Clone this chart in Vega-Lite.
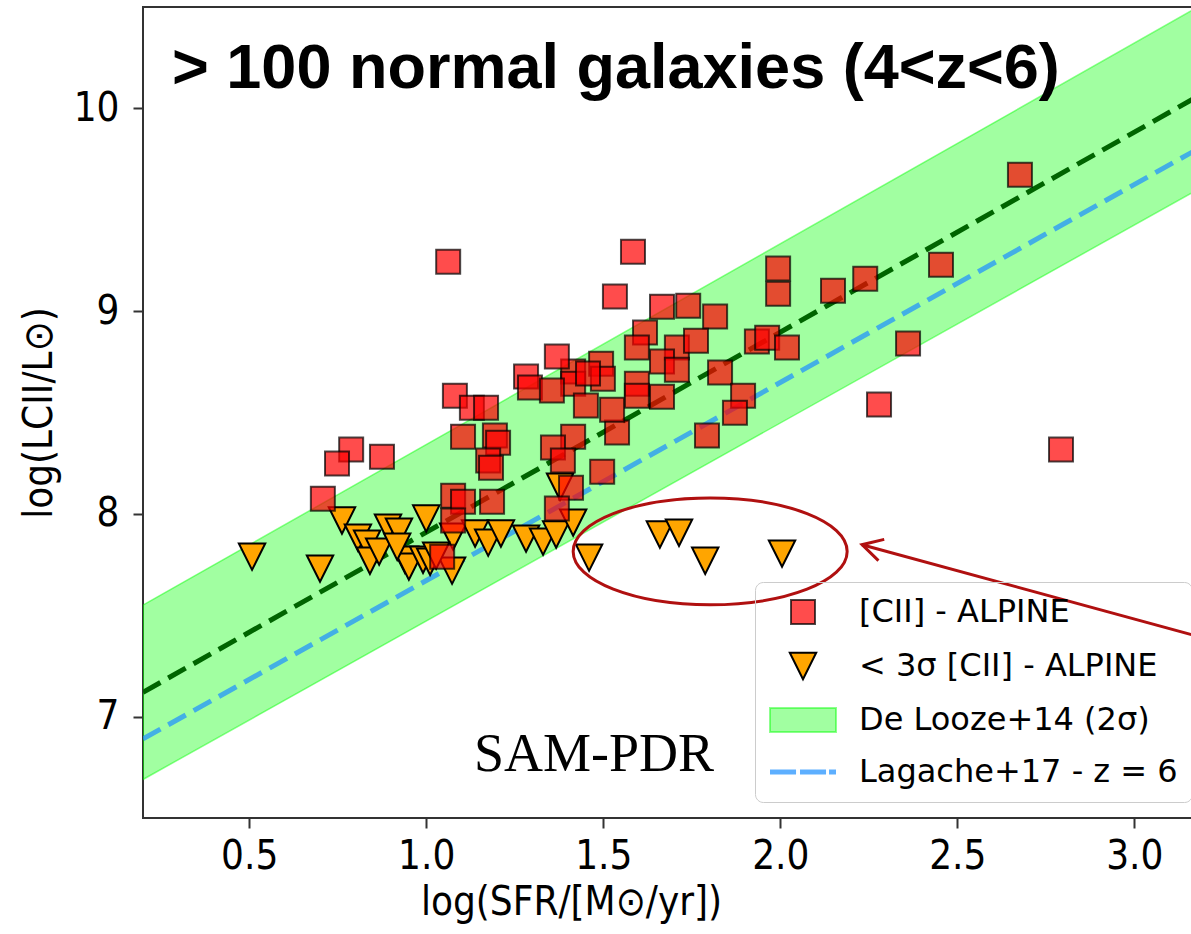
{
  "$schema": "https://vega.github.io/schema/vega-lite/v6.json",
  "width": 1049,
  "height": 811,
  "autosize": {"type": "none"},
  "padding": {"left": 143, "top": 7, "right": 0, "bottom": 116},
  "background": "white",
  "config": {
    "view": {"stroke": "#333333", "strokeWidth": 2},
    "axis": {
      "grid": false,
      "domain": false,
      "tickSize": 10,
      "tickWidth": 2,
      "tickColor": "#333333",
      "labelFont": "DejaVu Sans Condensed, DejaVu Sans",
      "labelFontSize": 40,
      "labelColor": "#000000",
      "titleFont": "DejaVu Sans Condensed, DejaVu Sans",
      "titleFontSize": 40,
      "titleFontWeight": "normal",
      "titleColor": "#000000"
    },
    "legend": {
      "orient": "none",
      "legendX": 612,
      "legendY": 575,
      "title": null,
      "padding": 14,
      "cornerRadius": 8,
      "strokeColor": "#cccccc",
      "symbolSize": 576,
      "symbolStrokeWidth": 2,
      "symbolOpacity": 1,
      "symbolOffset": 18,
      "labelOffset": 40,
      "labelFont": "DejaVu Sans",
      "labelFontSize": 32,
      "labelColor": "#000000",
      "labelLimit": 600,
      "rowPadding": 20
    }
  },
  "datasets": {
    "points": [
      {"x": 0.508, "y": 7.789, "s": "< 3σ [CII] - ALPINE"},
      {"x": 0.700, "y": 7.730, "s": "< 3σ [CII] - ALPINE"},
      {"x": 0.762, "y": 7.967, "s": "< 3σ [CII] - ALPINE"},
      {"x": 0.807, "y": 7.883, "s": "< 3σ [CII] - ALPINE"},
      {"x": 0.833, "y": 7.853, "s": "< 3σ [CII] - ALPINE"},
      {"x": 0.841, "y": 7.769, "s": "< 3σ [CII] - ALPINE"},
      {"x": 0.867, "y": 7.814, "s": "< 3σ [CII] - ALPINE"},
      {"x": 0.892, "y": 7.932, "s": "< 3σ [CII] - ALPINE"},
      {"x": 0.923, "y": 7.912, "s": "< 3σ [CII] - ALPINE"},
      {"x": 0.940, "y": 7.774, "s": "< 3σ [CII] - ALPINE"},
      {"x": 0.951, "y": 7.740, "s": "< 3σ [CII] - ALPINE"},
      {"x": 1.000, "y": 7.977, "s": "< 3σ [CII] - ALPINE"},
      {"x": 0.991, "y": 7.774, "s": "< 3σ [CII] - ALPINE"},
      {"x": 1.011, "y": 7.764, "s": "< 3σ [CII] - ALPINE"},
      {"x": 1.073, "y": 7.720, "s": "< 3σ [CII] - ALPINE"},
      {"x": 1.076, "y": 7.888, "s": "< 3σ [CII] - ALPINE"},
      {"x": 1.138, "y": 7.903, "s": "< 3σ [CII] - ALPINE"},
      {"x": 1.175, "y": 7.858, "s": "< 3σ [CII] - ALPINE"},
      {"x": 1.211, "y": 7.903, "s": "< 3σ [CII] - ALPINE"},
      {"x": 1.282, "y": 7.878, "s": "< 3σ [CII] - ALPINE"},
      {"x": 1.330, "y": 7.863, "s": "< 3σ [CII] - ALPINE"},
      {"x": 1.367, "y": 7.898, "s": "< 3σ [CII] - ALPINE"},
      {"x": 1.378, "y": 8.134, "s": "< 3σ [CII] - ALPINE"},
      {"x": 1.415, "y": 7.957, "s": "< 3σ [CII] - ALPINE"},
      {"x": 1.460, "y": 7.784, "s": "< 3σ [CII] - ALPINE"},
      {"x": 1.660, "y": 7.898, "s": "< 3σ [CII] - ALPINE"},
      {"x": 1.714, "y": 7.907, "s": "< 3σ [CII] - ALPINE"},
      {"x": 1.788, "y": 7.769, "s": "< 3σ [CII] - ALPINE"},
      {"x": 2.005, "y": 7.804, "s": "< 3σ [CII] - ALPINE"},
      {"x": 0.918, "y": 7.838, "s": "< 3σ [CII] - ALPINE"},
      {"x": 1.028, "y": 7.794, "s": "< 3σ [CII] - ALPINE"},
      {"x": 2.677, "y": 9.673, "s": "[CII] - ALPINE"},
      {"x": 2.793, "y": 8.317, "s": "[CII] - ALPINE"},
      {"x": 2.454, "y": 9.229, "s": "[CII] - ALPINE"},
      {"x": 2.240, "y": 9.160, "s": "[CII] - ALPINE"},
      {"x": 2.149, "y": 9.101, "s": "[CII] - ALPINE"},
      {"x": 1.994, "y": 9.210, "s": "[CII] - ALPINE"},
      {"x": 1.994, "y": 9.086, "s": "[CII] - ALPINE"},
      {"x": 1.934, "y": 8.850, "s": "[CII] - ALPINE"},
      {"x": 1.963, "y": 8.869, "s": "[CII] - ALPINE"},
      {"x": 2.019, "y": 8.820, "s": "[CII] - ALPINE"},
      {"x": 2.361, "y": 8.840, "s": "[CII] - ALPINE"},
      {"x": 2.279, "y": 8.539, "s": "[CII] - ALPINE"},
      {"x": 1.584, "y": 9.293, "s": "[CII] - ALPINE"},
      {"x": 1.533, "y": 9.072, "s": "[CII] - ALPINE"},
      {"x": 1.666, "y": 9.022, "s": "[CII] - ALPINE"},
      {"x": 1.740, "y": 9.027, "s": "[CII] - ALPINE"},
      {"x": 1.816, "y": 8.973, "s": "[CII] - ALPINE"},
      {"x": 1.618, "y": 8.894, "s": "[CII] - ALPINE"},
      {"x": 1.595, "y": 8.820, "s": "[CII] - ALPINE"},
      {"x": 1.708, "y": 8.820, "s": "[CII] - ALPINE"},
      {"x": 1.762, "y": 8.854, "s": "[CII] - ALPINE"},
      {"x": 1.666, "y": 8.751, "s": "[CII] - ALPINE"},
      {"x": 1.708, "y": 8.711, "s": "[CII] - ALPINE"},
      {"x": 1.830, "y": 8.697, "s": "[CII] - ALPINE"},
      {"x": 1.895, "y": 8.583, "s": "[CII] - ALPINE"},
      {"x": 1.872, "y": 8.499, "s": "[CII] - ALPINE"},
      {"x": 1.793, "y": 8.386, "s": "[CII] - ALPINE"},
      {"x": 1.666, "y": 8.578, "s": "[CII] - ALPINE"},
      {"x": 1.595, "y": 8.642, "s": "[CII] - ALPINE"},
      {"x": 1.595, "y": 8.583, "s": "[CII] - ALPINE"},
      {"x": 1.539, "y": 8.401, "s": "[CII] - ALPINE"},
      {"x": 1.525, "y": 8.514, "s": "[CII] - ALPINE"},
      {"x": 1.494, "y": 8.741, "s": "[CII] - ALPINE"},
      {"x": 1.499, "y": 8.667, "s": "[CII] - ALPINE"},
      {"x": 1.415, "y": 8.702, "s": "[CII] - ALPINE"},
      {"x": 1.415, "y": 8.642, "s": "[CII] - ALPINE"},
      {"x": 1.457, "y": 8.692, "s": "[CII] - ALPINE"},
      {"x": 1.451, "y": 8.534, "s": "[CII] - ALPINE"},
      {"x": 1.497, "y": 8.208, "s": "[CII] - ALPINE"},
      {"x": 1.415, "y": 8.381, "s": "[CII] - ALPINE"},
      {"x": 1.369, "y": 8.776, "s": "[CII] - ALPINE"},
      {"x": 1.282, "y": 8.677, "s": "[CII] - ALPINE"},
      {"x": 1.293, "y": 8.623, "s": "[CII] - ALPINE"},
      {"x": 1.355, "y": 8.608, "s": "[CII] - ALPINE"},
      {"x": 1.081, "y": 8.583, "s": "[CII] - ALPINE"},
      {"x": 1.129, "y": 8.524, "s": "[CII] - ALPINE"},
      {"x": 1.169, "y": 8.524, "s": "[CII] - ALPINE"},
      {"x": 1.104, "y": 8.381, "s": "[CII] - ALPINE"},
      {"x": 1.194, "y": 8.386, "s": "[CII] - ALPINE"},
      {"x": 1.203, "y": 8.351, "s": "[CII] - ALPINE"},
      {"x": 1.175, "y": 8.263, "s": "[CII] - ALPINE"},
      {"x": 1.183, "y": 8.228, "s": "[CII] - ALPINE"},
      {"x": 1.062, "y": 9.244, "s": "[CII] - ALPINE"},
      {"x": 0.788, "y": 8.317, "s": "[CII] - ALPINE"},
      {"x": 0.748, "y": 8.248, "s": "[CII] - ALPINE"},
      {"x": 0.875, "y": 8.282, "s": "[CII] - ALPINE"},
      {"x": 0.708, "y": 8.075, "s": "[CII] - ALPINE"},
      {"x": 1.076, "y": 8.090, "s": "[CII] - ALPINE"},
      {"x": 1.104, "y": 8.060, "s": "[CII] - ALPINE"},
      {"x": 1.076, "y": 7.967, "s": "[CII] - ALPINE"},
      {"x": 1.186, "y": 8.060, "s": "[CII] - ALPINE"},
      {"x": 1.045, "y": 7.789, "s": "[CII] - ALPINE"},
      {"x": 1.358, "y": 8.327, "s": "[CII] - ALPINE"},
      {"x": 1.386, "y": 8.263, "s": "[CII] - ALPINE"},
      {"x": 1.409, "y": 8.129, "s": "[CII] - ALPINE"},
      {"x": 1.369, "y": 8.026, "s": "[CII] - ALPINE"}
    ],
    "band": [
      {"x": 0.2, "lo": 6.69, "hi": 7.55, "s": "De Looze+14 (2σ)"},
      {"x": 3.2, "lo": 9.62, "hi": 10.52, "s": "De Looze+14 (2σ)"}
    ],
    "fit": [
      {"x": 0.2, "y": 7.12},
      {"x": 3.2, "y": 10.08}
    ],
    "lagache": [
      {"x": 0.2, "y": 6.89},
      {"x": 3.2, "y": 9.82}
    ],
    "ellipse": [{"x": 1.802, "y": 7.815}],
    "arrow": [
      {"x": 2.231, "y": 7.848},
      {"x": 3.163, "y": 7.404}
    ],
    "arrowhead": [{"x": 2.231, "y": 7.848}],
    "title": [{"x": 0.282, "y": 10.10, "label": "> 100 normal galaxies (4<z<6)"}],
    "note": [{"x": 1.135, "y": 6.73, "label": "SAM-PDR"}]
  },
  "encoding": {
    "x": {
      "field": "x",
      "type": "quantitative",
      "scale": {"domain": [0.2, 3.163], "nice": false, "zero": false},
      "axis": {
        "values": [0.5, 1, 1.5, 2, 2.5, 3],
        "format": ".1f",
        "title": "log(SFR/[M⊙/yr])",
        "labelPadding": 8,
        "titlePadding": 6,
        "titleX": 428
      }
    },
    "y": {
      "field": "y",
      "type": "quantitative",
      "scale": {"domain": [6.5, 10.5], "nice": false, "zero": false},
      "axis": {
        "values": [7, 8, 9, 10],
        "format": "d",
        "title": "log(LCII/L⊙)",
        "labelPadding": 14,
        "titlePadding": 14
      }
    }
  },
  "layer": [
    {
      "data": {"name": "band"},
      "mark": {"type": "area", "clip": true, "opacity": 1, "strokeWidth": 1.5},
      "encoding": {
        "y": {
          "field": "lo",
          "type": "quantitative",
          "scale": {"domain": [6.5, 10.5], "nice": false, "zero": false},
          "axis": {"values": [7, 8, 9, 10], "format": "d", "title": "log(LCII/L⊙)", "labelPadding": 14, "titlePadding": 14}
        },
        "y2": {"field": "hi"},
        "color": {
          "field": "s",
          "type": "nominal",
          "scale": {
            "domain": ["[CII] - ALPINE", "< 3σ [CII] - ALPINE", "De Looze+14 (2σ)", "Lagache+17 - z = 6"],
            "range": ["rgba(255,0,0,0.7)", "#ffa500", "rgba(0,255,0,0.37)", "rgba(30,144,255,0.72)"]
          },
          "legend": {"labelExpr": "datum.label + ' '"}
        },
        "stroke": {
          "field": "s",
          "type": "nominal",
          "scale": {
            "domain": ["[CII] - ALPINE", "< 3σ [CII] - ALPINE", "De Looze+14 (2σ)", "Lagache+17 - z = 6"],
            "range": ["rgba(0,0,0,0.7)", "#000000", "rgba(0,255,0,0.45)", "transparent"]
          },
          "legend": {"labelExpr": "datum.label + ' '"}
        }
      }
    },
    {
      "data": {"name": "fit"},
      "mark": {"type": "line", "clip": true, "color": "#006400", "strokeWidth": 5, "strokeDash": [20, 9]},
      "encoding": {}
    },
    {
      "data": {"name": "lagache"},
      "mark": {"type": "line", "clip": true, "color": "#1e90ff", "strokeWidth": 5, "strokeDash": [20, 9], "opacity": 0.72},
      "encoding": {}
    },
    {
      "data": {"name": "points"},
      "mark": {"type": "point", "filled": true, "size": 576, "opacity": 1, "strokeWidth": 2},
      "encoding": {
        "color": {
          "field": "s",
          "type": "nominal",
          "scale": {
            "domain": ["[CII] - ALPINE", "< 3σ [CII] - ALPINE", "De Looze+14 (2σ)", "Lagache+17 - z = 6"],
            "range": ["rgba(255,0,0,0.7)", "#ffa500", "rgba(0,255,0,0.37)", "rgba(30,144,255,0.72)"]
          },
          "legend": {"labelExpr": "datum.label + ' '"}
        },
        "stroke": {
          "field": "s",
          "type": "nominal",
          "scale": {
            "domain": ["[CII] - ALPINE", "< 3σ [CII] - ALPINE", "De Looze+14 (2σ)", "Lagache+17 - z = 6"],
            "range": ["rgba(0,0,0,0.7)", "#000000", "rgba(0,255,0,0.45)", "transparent"]
          },
          "legend": {"labelExpr": "datum.label + ' '"}
        },
        "shape": {
          "field": "s",
          "type": "nominal",
          "scale": {
            "domain": ["[CII] - ALPINE", "< 3σ [CII] - ALPINE", "De Looze+14 (2σ)", "Lagache+17 - z = 6"],
            "range": [
              "square",
              "M -1.1 -1.1 L 1.1 -1.1 L 0 1.1 Z",
              "M -2.75 -1 L 2.75 -1 L 2.75 1 L -2.75 1 Z",
              "M -2.75 -0.2 L -0.58 -0.2 L -0.58 0.2 L -2.75 0.2 Z M -0.25 -0.2 L 1.92 -0.2 L 1.92 0.2 L -0.25 0.2 Z M 2.17 -0.2 L 2.75 -0.2 L 2.75 0.2 L 2.17 0.2 Z"
            ]
          },
          "legend": {"labelExpr": "datum.label + ' '"}
        }
      }
    },
    {
      "data": {"name": "ellipse"},
      "mark": {"type": "point", "filled": false, "opacity": 1, "stroke": "#b01010", "strokeWidth": 3, "size": 75076, "shape": "M 1 0 C 1 0.2154 0.5523 0.39 0 0.39 C -0.5523 0.39 -1 0.2154 -1 0 C -1 -0.2154 -0.5523 -0.39 0 -0.39 C 0.5523 -0.39 1 -0.2154 1 0 Z"},
      "encoding": {}
    },
    {
      "data": {"name": "arrow"},
      "mark": {"type": "line", "color": "#b01010", "strokeWidth": 3},
      "encoding": {}
    },
    {
      "data": {"name": "arrowhead"},
      "mark": {"type": "point", "filled": false, "opacity": 1, "stroke": "#b01010", "strokeWidth": 3, "size": 1600, "angle": 15.3, "shape": "M 1 -0.55 L 0 0 L 1 0.55"},
      "encoding": {}
    },
    {
      "data": {"name": "title"},
      "mark": {"type": "text", "font": "Liberation Sans", "fontWeight": "bold", "fontSize": 63, "align": "left", "baseline": "alphabetic", "color": "#000000"},
      "encoding": {"text": {"field": "label"}}
    },
    {
      "data": {"name": "note"},
      "mark": {"type": "text", "font": "Liberation Serif", "fontSize": 54, "align": "left", "baseline": "alphabetic", "color": "#000000"},
      "encoding": {"text": {"field": "label"}}
    }
  ]
}
